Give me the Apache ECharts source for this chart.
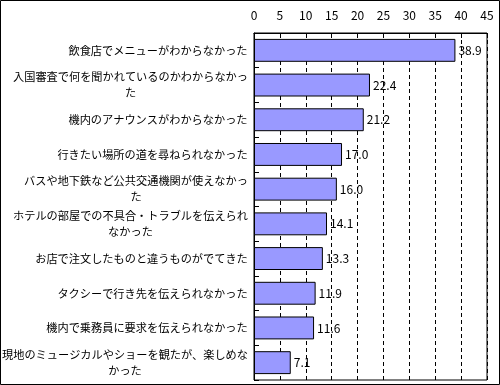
<!DOCTYPE html>
<html><head><meta charset="utf-8">
<script src="https://cdn.jsdelivr.net/npm/echarts@6/dist/echarts.min.js"></script>
<style>html,body{margin:0;padding:0;background:#fff}#c{width:500px;height:385px}</style>
</head><body><div id="c"></div>
<script>
var categories = [
  '飲食店でメニューがわからなかった',
  '入国審査で何を聞かれているのかわからなかっ\nた',
  '機内のアナウンスがわからなかった',
  '行きたい場所の道を尋ねられなかった',
  'バスや地下鉄など公共交通機関が使えなかっ\nた',
  'ホテルの部屋での不具合・トラブルを伝えられ\nなかった',
  'お店で注文したものと違うものがでてきた',
  'タクシーで行き先を伝えられなかった',
  '機内で乗務員に要求を伝えられなかった',
  '現地のミュージカルやショーを観たが、楽しめな\nかった'
];
var values = [38.9, 22.4, 21.2, 17.0, 16.0, 14.1, 13.3, 11.9, 11.6, 7.1];
var tickMin = 0, tickMax = 45, tickStep = 5;

var jp = '"Noto Sans CJK JP", "Noto Sans", sans-serif';
var fs = 11.2;
var ctx = document.createElement('canvas').getContext('2d');
ctx.font = fs + 'px ' + jp;
var rich = {};
categories.forEach(function (c, i) {
  var lines = c.split('\n');
  var w = Math.ceil(Math.max.apply(null, lines.map(function (l) { return ctx.measureText(l).width; })));
  rich['r' + i] = {width: w, align: 'center', fontSize: fs, lineHeight: 16, color: '#000', fontFamily: jp};
});

var chart = echarts.init(document.getElementById('c'));
chart.setOption({
  animation: false,
  backgroundColor: '#fff',
  textStyle: {fontFamily: jp},
  graphic: [{type: 'rect', shape: {x: 0.5, y: 0.5, width: 499, height: 384}, style: {fill: 'none', stroke: '#000', lineWidth: 1}, z: 100}],
  grid: {left: 254, top: 33, width: 233, height: 347, show: true, borderColor: '#000', borderWidth: 1,
    backgroundColor: 'transparent', containLabel: false, outerBoundsMode: 'none'},
  xAxis: {
    type: 'value', position: 'top', min: tickMin, max: tickMax, interval: tickStep,
    axisLine: {show: true, lineStyle: {color: '#000'}},
    axisTick: {show: true, inside: true, length: 5, lineStyle: {color: '#000'}},
    axisLabel: {color: '#000', fontSize: 12, margin: 12, fontFamily: jp},
    splitLine: {show: true, lineStyle: {color: '#000', type: [4, 3], width: 1}}
  },
  yAxis: {
    type: 'category', inverse: true, data: categories,
    axisLine: {show: true, lineStyle: {color: '#000'}},
    axisTick: {show: true, inside: true, length: 5, lineStyle: {color: '#000'}},
    axisLabel: {
      color: '#000', fontSize: fs, margin: 6, align: 'right', interval: 0, lineHeight: 16,
      formatter: function (v, i) {
        return v.split('\n').map(function (l) { return '{r' + i + '|' + l + '}'; }).join('\n');
      },
      rich: rich
    }
  },
  series: [{
    type: 'bar', data: values, barCategoryGap: '34%',
    itemStyle: {color: '#9999ff', borderColor: '#000', borderWidth: 1},
    label: {show: true, position: 'right', distance: 3, color: '#000', fontSize: 12, fontFamily: jp,
      formatter: function (p) { return p.value.toFixed(1); }}
  }]
});
</script></body></html>
